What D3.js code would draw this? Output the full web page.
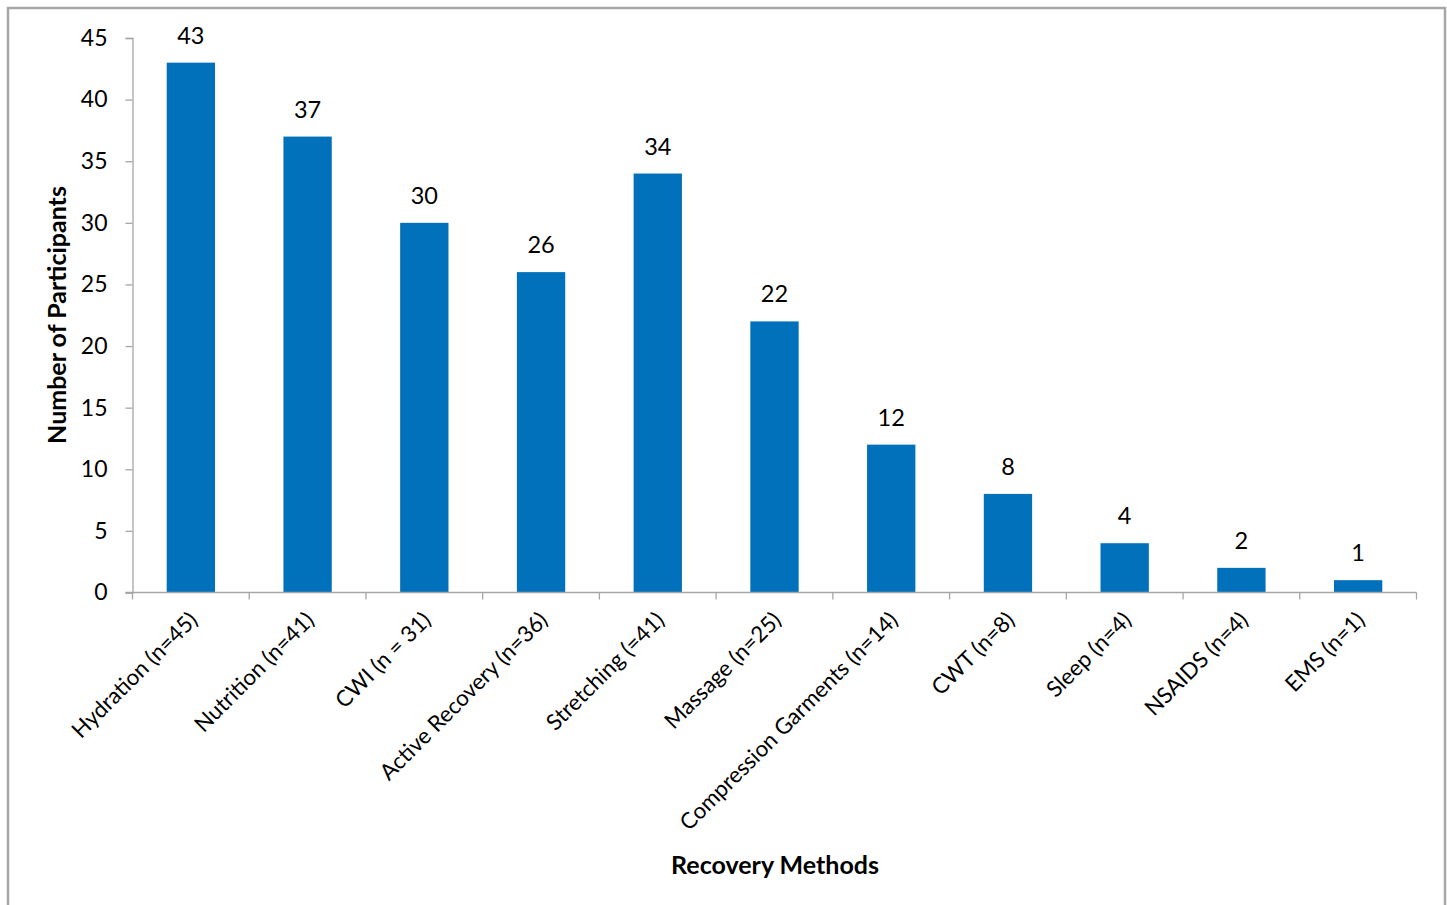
<!DOCTYPE html>
<html><head><meta charset="utf-8">
<script src="https://cdn.jsdelivr.net/npm/d3@7"></script>
<style>
html,body{margin:0;padding:0;background:#fff;}
svg{display:block;font-family:Lato,"Open Sans",sans-serif;}
</style></head>
<body>
<svg id="chart" width="1447" height="905"></svg>
<script>
const categories = ["Hydration (n=45)","Nutrition (n=41)","CWI (n = 31)","Active Recovery (n=36)","Stretching (=41)","Massage (n=25)","Compression Garments (n=14)","CWT (n=8)","Sleep (n=4)","NSAIDS (n=4)","EMS (n=1)"];
const values = [43,37,30,26,34,22,12,8,4,2,1];
const yTicks = [0,5,10,15,20,25,30,35,40,45];

(function(){
const svg = d3.select("#chart");
// outer border
svg.append("path").attr("d","M8,910 V8 H1445 V910").attr("fill","none").attr("stroke","#a6a6a6").attr("stroke-width",2.5);

const pLeft=132.5, pRight=1416.5, pTop=38, pBottom=592.5;
const x = d3.scaleBand().domain(categories).range([pLeft,pRight]).paddingInner(0.586).paddingOuter(0.293);
const y = d3.scaleLinear().domain([0,45]).range([pBottom,pTop]);

// bars
svg.append("g").selectAll("rect").data(values).join("rect")
  .attr("x",(d,i)=>x(categories[i]))
  .attr("width",x.bandwidth())
  .attr("y",d=>y(d))
  .attr("height",d=>y(0)-y(d))
  .attr("fill","#0171bb");

// y axis
const yAxis = svg.append("g").attr("transform",`translate(${pLeft},0)`)
  .call(d3.axisLeft(y).tickValues(yTicks).tickSize(7).tickPadding(18));
yAxis.select(".domain").attr("stroke","#a6a6a6").attr("stroke-width",1.3);
yAxis.selectAll(".tick line").attr("stroke","#a6a6a6").attr("stroke-width",1.3);
yAxis.selectAll("text").attr("font-size",23).attr("fill","#000").attr("font-family","Lato");

// x axis line and ticks at boundaries
const step = x.step();
const bounds = d3.range(categories.length+1).map(i=>pLeft+i*step);
svg.append("line").attr("x1",pLeft-7).attr("x2",pRight).attr("y1",pBottom).attr("y2",pBottom).attr("stroke","#a6a6a6").attr("stroke-width",1.3);
svg.append("g").selectAll("line").data(bounds).join("line")
  .attr("x1",d=>d).attr("x2",d=>d).attr("y1",pBottom).attr("y2",pBottom+7)
  .attr("stroke","#a6a6a6").attr("stroke-width",1.3);

// category labels rotated
svg.append("g").selectAll("text").data(categories).join("text")
  .attr("transform",d=>`translate(${x(d)+x.bandwidth()/2+8},${pBottom+29}) rotate(-45)`)
  .attr("text-anchor","end")
  .attr("font-size",22.3)
  .attr("fill","#000")
  .text(d=>d);

// value labels
svg.append("g").selectAll("text").data(values).join("text")
  .attr("x",(d,i)=>x(categories[i])+x.bandwidth()/2)
  .attr("y",d=>y(d)-19)
  .attr("text-anchor","middle")
  .attr("font-size",23.5)
  .attr("fill","#000")
  .text(d=>d);

// axis titles
svg.append("text").attr("x",775).attr("y",874).attr("text-anchor","middle")
  .attr("font-size",25).attr("font-weight","bold").attr("fill","#000").text("Recovery Methods");
svg.append("text").attr("transform","translate(66,315) rotate(-90)").attr("text-anchor","middle")
  .attr("font-size",25).attr("font-weight","bold").attr("fill","#000").text("Number of Participants");
})();
</script>
</body></html>
